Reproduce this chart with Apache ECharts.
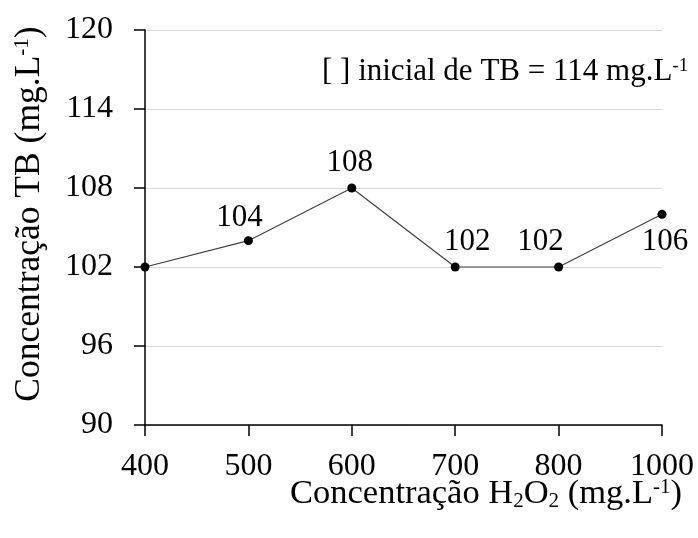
<!DOCTYPE html>
<html>
<head>
<meta charset="utf-8">
<script src="https://cdn.jsdelivr.net/npm/echarts@6/dist/echarts.min.js"></script>
<style>
  html, body { margin: 0; padding: 0; background: #fff; }
  #chart { width: 698px; height: 538px; }
</style>
</head>
<body>
<div id="chart"></div>
<script>
// dados
const categories = ['400', '500', '600', '700', '800', '1000'];
const valores = [102, 104, 108, 102, 102, 106];
const yTicks = [90, 96, 102, 108, 114, 120];

const fonte = '"Liberation Serif", "Times New Roman", serif';

// posição dos rótulos de cada ponto (o primeiro não tem rótulo)
const rotulos = [
  { show: false },
  { show: true, position: 'top', offset: [-9, 0], distance: 3 },
  { show: true, position: 'top', offset: [-2, 0], distance: 5 },
  { show: true, position: 'top', offset: [12, 0], distance: 5 },
  { show: true, position: 'top', offset: [-18, 0], distance: 5 },
  { show: true, position: 'bottom', offset: [3, 0], distance: 8 },
];

const chart = echarts.init(document.getElementById('chart'));
chart.setOption({
  animation: false,
  backgroundColor: '#fff',
  grid: { left: 145, right: 36, top: 30, bottom: 113 },
  xAxis: {
    type: 'category',
    data: categories,
    boundaryGap: false,
    axisLine: { lineStyle: { color: '#000', width: 1.5 } },
    axisTick: { show: true, alignWithLabel: true, length: 11, lineStyle: { color: '#000', width: 1.5 } },
    axisLabel: { color: '#000', fontFamily: fonte, fontSize: 32, margin: 26 },
    splitLine: { show: false },
  },
  yAxis: {
    type: 'value',
    min: yTicks[0],
    max: yTicks[yTicks.length - 1],
    interval: 6,
    axisLine: { show: true, lineStyle: { color: '#000', width: 1.5 } },
    axisTick: { show: true, inside: false, length: 11, lineStyle: { color: '#000', width: 1.5 } },
    axisLabel: { color: '#000', fontFamily: fonte, fontSize: 32, margin: 32 },
    splitLine: { show: true, lineStyle: { color: '#d9d9d9', width: 1 } },
  },
  series: [
    {
      type: 'line',
      data: valores.map((v, i) => ({ value: v, label: rotulos[i] })),
      symbol: 'circle',
      symbolSize: 9,
      itemStyle: { color: '#000' },
      lineStyle: { color: '#404040', width: 1.2 },
      label: {
        color: '#000',
        fontFamily: fonte,
        fontSize: 31,
      },
      z: 3,
    },
  ],
  graphic: [
    {
      type: 'text',
      x: 322,
      y: 72,
      style: {
        text: '[ ] inicial de TB = 114 mg.L{sup|-1}',
        fontFamily: fonte,
        fontSize: 31,
        fill: '#000',
        verticalAlign: 'middle',
        rich: {
          sup: { fontFamily: fonte, fontSize: 19, verticalAlign: 'top', fill: '#000' },
        },
      },
    },
    {
      type: 'text',
      x: 290,
      y: 494,
      style: {
        text: 'Concentração H{sub|2}O{sub|2} (mg.L{sup|-1})',
        fontFamily: fonte,
        fontSize: 34.5,
        fill: '#000',
        verticalAlign: 'middle',
        rich: {
          sub: { fontFamily: fonte, fontSize: 21, verticalAlign: 'bottom', fill: '#000' },
          sup: { fontFamily: fonte, fontSize: 21, verticalAlign: 'top', fill: '#000' },
        },
      },
    },
    {
      type: 'text',
      x: 30,
      y: 214,
      rotation: Math.PI / 2,
      style: {
        text: 'Concentração TB (mg.L{sup|-1})',
        fontFamily: fonte,
        fontSize: 35.5,
        fill: '#000',
        align: 'center',
        verticalAlign: 'middle',
        rich: {
          sup: { fontFamily: fonte, fontSize: 21, verticalAlign: 'top', fill: '#000' },
        },
      },
    },
  ],
});
</script>
</body>
</html>
